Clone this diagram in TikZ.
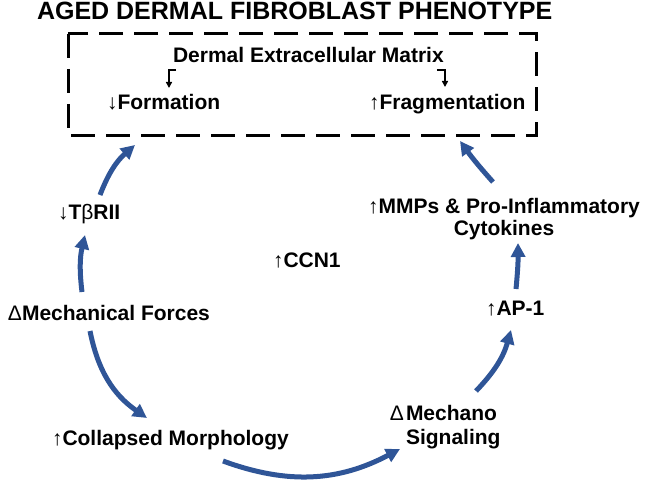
\documentclass[tikz,border=0pt]{standalone}
\usepackage{fontspec}
\setmainfont{Liberation Sans}
\usetikzlibrary{arrows.meta,calc}
\definecolor{flowblue}{RGB}{47,85,151}
\begin{document}
\begin{tikzpicture}[x=1pt,y=-1pt,
  lbl/.style={inner sep=0pt, outer sep=0pt, font=\fontsize{21}{22}\selectfont\bfseries},
  ttl/.style={inner sep=0pt, outer sep=0pt, font=\fontsize{25}{30}\selectfont\bfseries},
  flow/.style={draw=flowblue, line width=5pt, -{Triangle[length=14pt,width=14pt]}},
  bk/.style={draw=black, line width=1.6pt, -{Triangle[length=6pt,width=6pt]}},
  dbox/.style={draw=black, line width=3pt, dash pattern=on 24pt off 11pt}]
\useasboundingbox (0,0) rectangle (645,486);

% title and dashed box
\node[ttl, anchor=base west] (title) at (37,20) {AGED DERMAL FIBROBLAST PHENOTYPE};
\draw[dbox] (68,34) rectangle (536,136);

% labels
\node[lbl, anchor=base west] (dem) at (173,63) {Dermal Extracellular Matrix};
\node[lbl, anchor=base west] (form) at (107,110) {↓Formation};
\node[lbl, anchor=base west] (frag) at (369,110) {↑Fragmentation};
\node[lbl, anchor=base west] (tbr) at (58,220) {↓T{\mdseries β}RII};
\node[lbl, anchor=base west] (mech) at (8,320) {{\mdseries Δ}Mechanical Forces};
\node[lbl, anchor=base west] (ccn) at (273,268) {↑CCN1};
\node[lbl, anchor=north, align=center] (mmp) at (504,198) {↑MMPs \& Pro-Inflammatory\\Cytokines};
\node[lbl, anchor=base west] (ap1) at (486,316) {↑AP-1};
\node[lbl, anchor=base west] (coll) at (52,445) {↑Collapsed Morphology};
\node[lbl, anchor=north west, align=left, font=\fontsize{21}{24}\selectfont\bfseries] (msig) at (406,405.7) {\llap{\mdseries Δ\hspace{2pt}}Mechano\\Signaling};

% bracket arrows inside the box
\draw[bk] ([shift={(3,7)}]dem.base west) -| ([shift={(62,-22)}]form.base west);
\draw[bk] ([shift={(-7,7)}]dem.base east) -| ([shift={(76,-23)}]frag.base west);

% cycle arrows
\draw[flow] ([shift={(42,-25)}]tbr.base west) to[bend left=14] ([shift={(28,35)}]form.base west);
\draw[flow] ([shift={(74,-28)}]mech.base west) to[bend left=10] ([shift={(27,15)}]tbr.base west);
\draw[flow] ([shift={(82,11)}]mech.base west) to[bend right=22] ([shift={(95,-27)}]coll.base west);
\draw[flow] ([shift={(171,16)}]coll.base west) to[bend right=24] ([shift={(-6,43.3)}]msig.north west);
\draw[flow] ([shift={(70,-14.7)}]msig.north west) to[bend right=14] ([shift={(25,14)}]ap1.base west);
\draw[flow] ([shift={(30,-27)}]ap1.base west) to[bend right=3] ([shift={(14,45)}]mmp.north);
\draw[flow] ([shift={(-11,-16)}]mmp.north) to[bend left=3] ([shift={(91,31)}]frag.base west);
\end{tikzpicture}
\end{document}
